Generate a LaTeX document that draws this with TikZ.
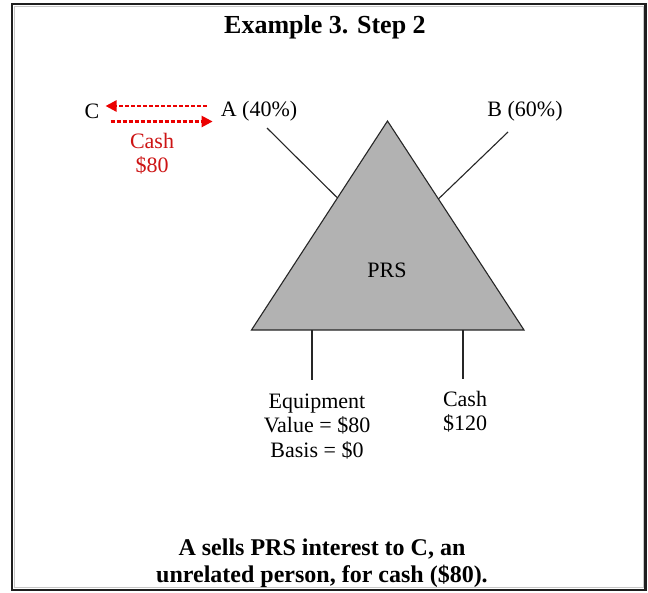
\documentclass[tikz,border=0pt]{standalone}
\usepackage{fontspec}
\setmainfont{Liberation Serif}
\usetikzlibrary{arrows.meta,calc}
\definecolor{cashred}{RGB}{205,20,20}
\definecolor{arrowred}{RGB}{235,0,0}
\definecolor{prsgray}{RGB}{178,178,178}
\begin{document}
\begin{tikzpicture}[x=1pt,y=-1pt,
  lbl/.style={inner sep=0pt,align=center,font=\fontsize{22}{24.5}\selectfont},
  headline/.style={inner sep=0pt,align=center,font=\fontsize{26}{29}\selectfont\bfseries},
  caption/.style={inner sep=0pt,align=center,font=\fontsize{24}{27}\selectfont\bfseries},
  cashflow/.style={draw=arrowred,line width=2.4pt,dash pattern=on 4pt off 2pt,
    -{Triangle[length=11pt,width=11pt,fill=arrowred]}},
  link/.style={draw=black!85,line width=1.1pt}]
% page and frame
\useasboundingbox (0,0) rectangle (648,592);
\fill[white] (0,0) rectangle (648,592);
\draw[line width=2.5pt,black!88] (11.75,4) rectangle (645.25,589.75);
\draw[line width=0.6pt,black!22] (14.2,6.4) rectangle (643,587.4);

% title
\node[headline] (title) at (325,27) {Example 3. Step 2};

% partners
\node[lbl] (C) at (92,111) {C};
\node[lbl] (A) at (259,111) {A (40\%)};
\node[lbl] (B) at (525,111) {B (60\%)};

% interest goes to C, cash goes to A
\draw[cashflow] ([xshift=-14pt,yshift=5pt]A.west) -- ([xshift=6pt,yshift=5pt]C.east);
\draw[cashflow] ([xshift=11pt,yshift=-10.5pt]C.east) -- ([xshift=-8pt,yshift=-10.5pt]A.west);
\node[lbl,text=cashred] (paid) at (152,153.5) {Cash\\\$80};

% partnership
\coordinate (apex) at (387.5,121);
\coordinate (bl) at (251.5,330);
\coordinate (br) at (524,330);
\filldraw[fill=prsgray,draw=black!85,line width=1.1pt] (apex) -- (bl) -- (br) -- cycle;
\node[lbl] (prs) at (387,270) {PRS};

% ownership lines
\coordinate (aFoot) at (267,128);
\coordinate (bFoot) at (508,132);
\coordinate (aEdge) at ($(apex)!0.368!(bl)$);
\coordinate (bEdge) at ($(apex)!0.373!(br)$);
\draw[link] (aFoot) -- (aEdge);
\draw[link] (bFoot) -- (bEdge);

% assets
\node[lbl] (equip) at (317,426.5) {Equipment\\Value = \$80\\Basis = \$0};
\node[lbl] (cash) at (465,411.5) {Cash\\\$120};
\coordinate (eTop) at (312,330);
\coordinate (cTop) at (463,330);
\draw[link] (eTop) -- (312,380);
\draw[link] (cTop) -- (463,379);

% caption
\node[caption] (note) at (322,563.5) {A sells PRS interest to C, an\\unrelated person, for cash (\$80).};
\end{tikzpicture}
\end{document}
